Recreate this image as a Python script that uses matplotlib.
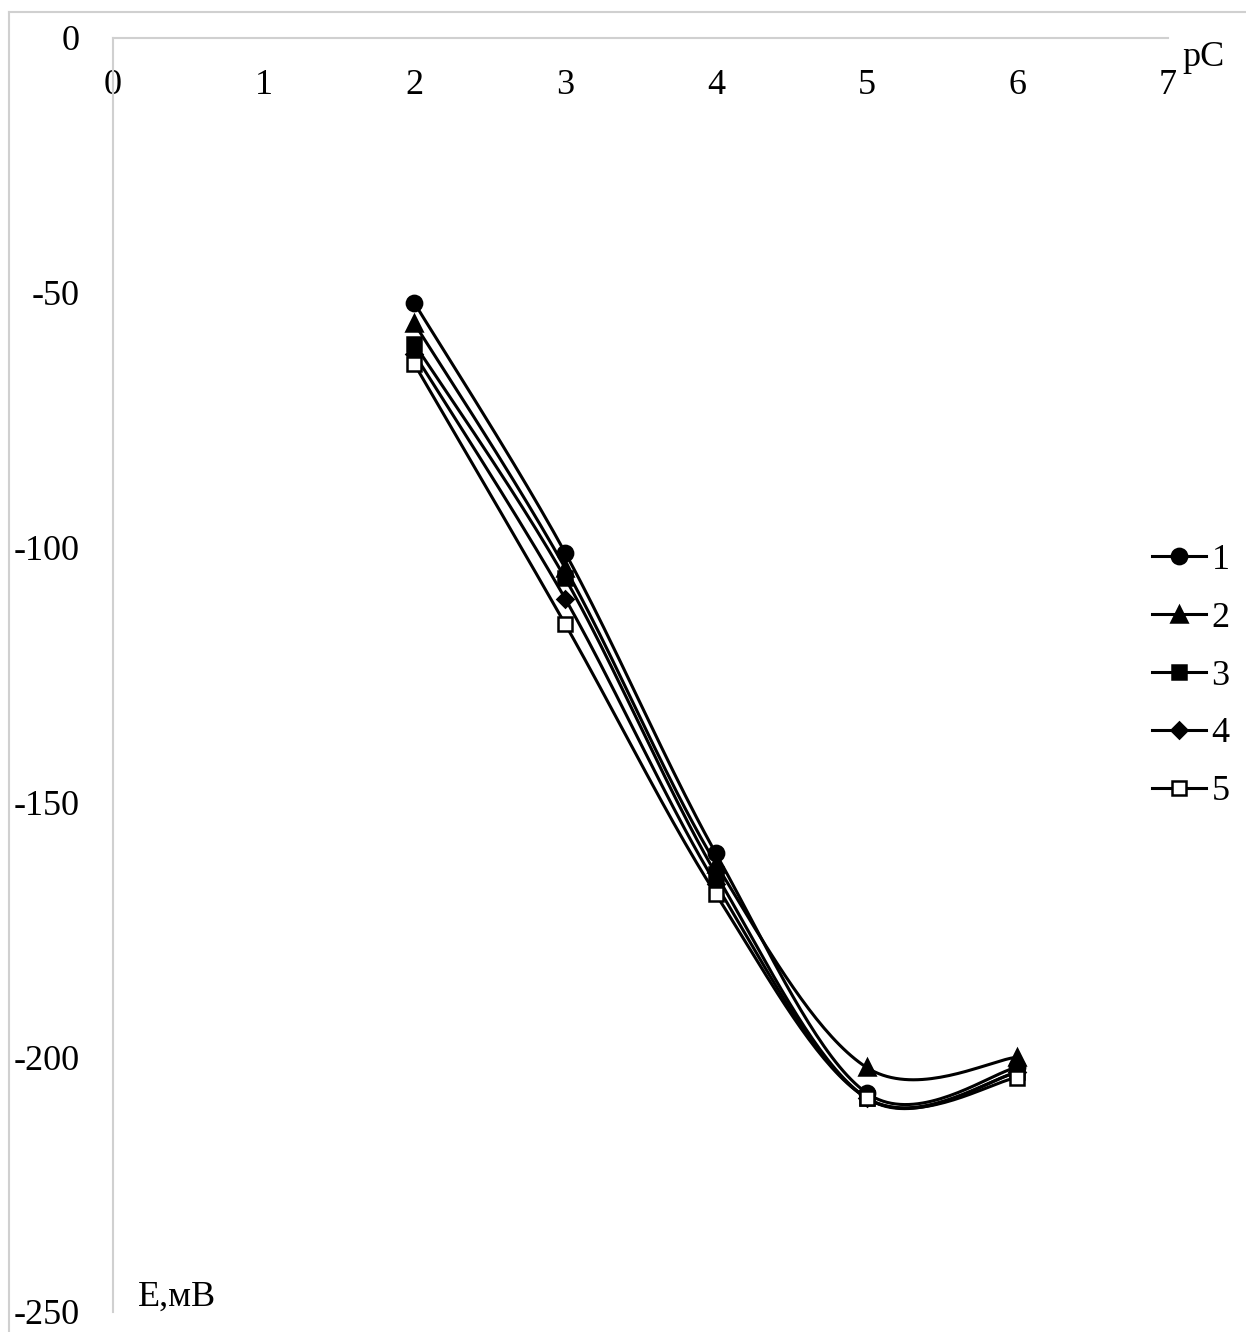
import numpy as np
import matplotlib
matplotlib.use("Agg")
import matplotlib.pyplot as plt
from matplotlib.lines import Line2D

plt.rcParams['font.family'] = ['Liberation Serif', 'DejaVu Serif']
plt.rcParams['font.size'] = 26

# --- data ---
pC = [2, 3, 4, 5, 6]
E1 = [-52, -101, -160, -207, -202]
E2 = [-56, -104, -162, -202, -200]
E3 = [-60, -106, -164, -208, -203]
E4 = [-62, -110, -166, -208, -203]
E5 = [-64, -115, -168, -208, -204]
series_labels = ['1', '2', '3', '4', '5']

x_ticks = [0, 1, 2, 3, 4, 5, 6, 7]
y_ticks = [0, -50, -100, -150, -200, -250]


def smooth(xs, ys, n=40):
    # cubic Bezier smoothing through every point (Catmull-Rom style)
    P = np.column_stack([xs, ys]).astype(float)
    out = []
    for i in range(len(P) - 1):
        p0 = P[i - 1] if i > 0 else P[i]
        p1, p2 = P[i], P[i + 1]
        p3 = P[i + 2] if i + 2 < len(P) else P[i + 1]
        c1 = p1 + (p2 - p0) / 6
        c2 = p2 - (p3 - p1) / 6
        t = np.linspace(0, 1, n)[:, None]
        seg = ((1 - t) ** 3 * p1 + 3 * (1 - t) ** 2 * t * c1
               + 3 * (1 - t) * t ** 2 * c2 + t ** 3 * p2)
        out.append(seg if i == 0 else seg[1:])
    seg = np.vstack(out)
    return seg[:, 0], seg[:, 1]


W, H = 1246, 1332
fig = plt.figure(figsize=(W / 100, H / 100), dpi=100)
ax = fig.add_axes([113 / W, 1 - 1312 / H, (1168 - 113) / W, (1312 - 38) / H])

# outer frame
fig.add_artist(Line2D([9 / W, 9 / W], [0, 1 - 12 / H], color='#d0d0d0', lw=1.5,
                      transform=fig.transFigure))
fig.add_artist(Line2D([9 / W, 1], [1 - 12 / H, 1 - 12 / H], color='#d0d0d0', lw=1.5,
                      transform=fig.transFigure))

styles = [
    dict(marker='o', ms=11, mfc='black'),
    dict(marker='^', ms=11, mfc='black'),
    dict(marker='s', ms=10, mfc='black'),
    dict(marker='D', ms=8, mfc='black'),
    dict(marker='s', ms=10, mfc='white'),
]
all_series = [E1, E2, E3, E4, E5]

handles = []
for ys, st, lab in zip(all_series, styles, series_labels):
    sx, sy = smooth(pC, ys)
    ax.plot(sx, sy, color='black', lw=2.2, zorder=3)
    ax.plot(pC, ys, ls='none', marker=st['marker'], ms=st['ms'],
            mfc=st['mfc'], mec='black', mew=1.8, zorder=4)
    handles.append(Line2D([], [], color='black', lw=2.2, marker=st['marker'],
                          ms=st['ms'], mfc=st['mfc'], mec='black', mew=1.8,
                          label=lab))

ax.set_xlim(0, 7)
ax.set_ylim(-250, 0)
ax.set_xticks(x_ticks)
ax.set_yticks(y_ticks)
ax.set_xticklabels([str(v) for v in x_ticks])
ax.set_yticklabels([str(v) for v in y_ticks])

for side in ['bottom', 'right']:
    ax.spines[side].set_visible(False)
for side in ['top', 'left']:
    ax.spines[side].set_color('#d0d0d0')
    ax.spines[side].set_linewidth(1.5)

ax.tick_params(axis='x', top=True, labeltop=True, bottom=False, labelbottom=False,
               length=0, pad=-46, labelsize=26)
ax.tick_params(axis='y', length=0, pad=24, labelsize=26)

ax.text(1182 / W, 1 - 57 / H, 'pC', transform=fig.transFigure,
        ha='left', va='center', fontsize=26)
ax.text(138 / W, 1 - 1297 / H, 'E,мВ', transform=fig.transFigure,
        ha='left', va='center', fontsize=26)

fig.legend(handles=handles, loc='center left',
           bbox_to_anchor=(1152 / W, 1 - 676 / H), frameon=False,
           borderpad=0, borderaxespad=0, handlelength=1.5,
           handletextpad=0.15, labelspacing=0.68, fontsize=26)

fig.savefig('out.png', dpi=100)
